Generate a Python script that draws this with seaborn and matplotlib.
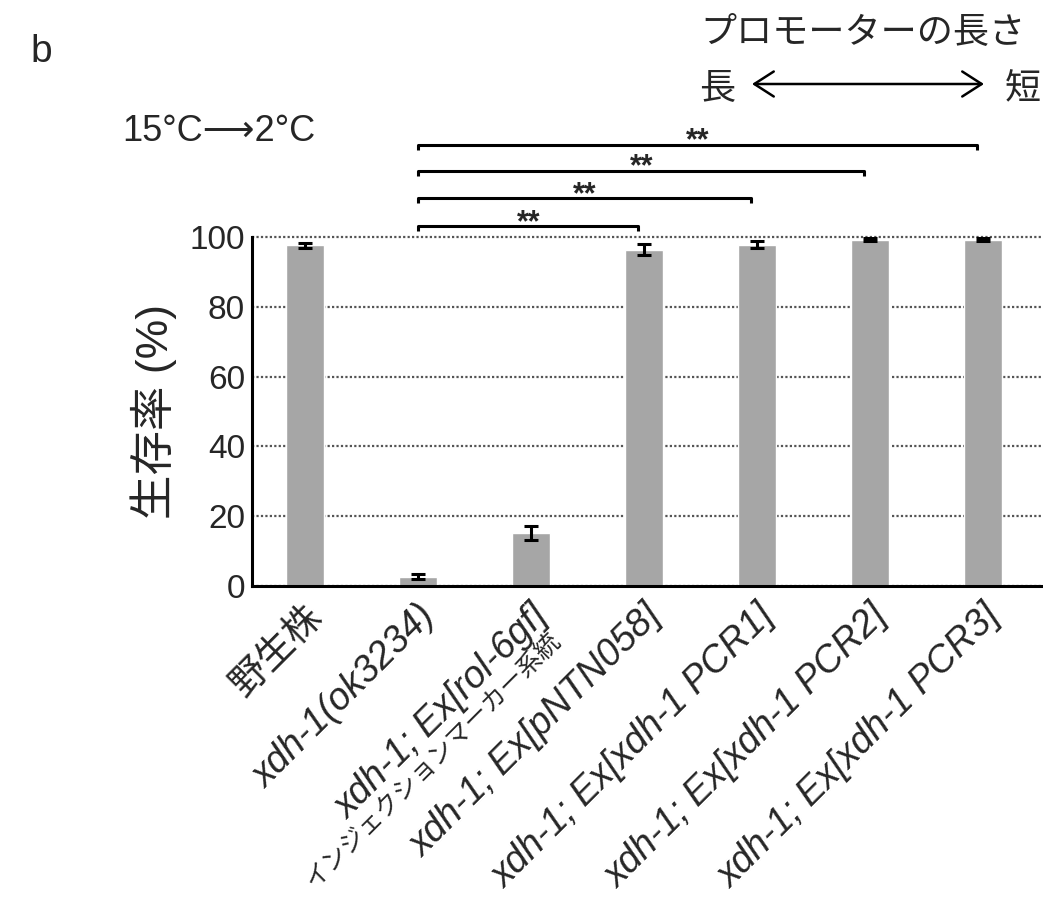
import numpy as np
import pandas as pd
import matplotlib
matplotlib.use('Agg')
import matplotlib.pyplot as plt
import matplotlib.transforms as mtransforms
import seaborn as sns

# data
strains = ['野生株', 'xdh-1(ok3234)', 'xdh-1; Ex[rol-6gf]', 'xdh-1; Ex[pNTN058]',
           'xdh-1; Ex[xdh-1 PCR1]', 'xdh-1; Ex[xdh-1 PCR2]', 'xdh-1; Ex[xdh-1 PCR3]']
survival = [97.6, 2.7, 15.1, 96.4, 97.8, 99.2, 99.2]
sem = [0.7, 0.6, 2.0, 1.6, 1.0, 0.4, 0.4]
marker_note = 'インジェクションマーカー系統'
comparisons = [(1, 3), (1, 4), (1, 5), (1, 6)]
bracket_y = [103.2, 111.2, 119.0, 126.5]
yticks = [0, 20, 40, 60, 80, 100]

df = pd.DataFrame({'strain': strains, 'survival': survival})

sns.set_style('white')
plt.rcParams['font.family'] = ['Liberation Sans', 'Noto Sans CJK JP', 'DejaVu Sans']

W, H = 1043, 897
fig = plt.figure(figsize=(W / 100, H / 100), dpi=100)
ax = fig.add_axes([252 / W, 1 - 586 / H, (W - 252) / W, (586 - 237) / H])

sns.barplot(data=df, x='strain', y='survival', color='#a6a6a6', width=0.335,
            errorbar=None, saturation=1, ax=ax, zorder=2)
ax.errorbar(np.arange(len(strains)), survival, yerr=sem, fmt='none', ecolor='black',
            elinewidth=2.2, capsize=5, capthick=2.2, zorder=3)

ax.set_xlim(-0.47, 6.53)
ax.set_ylim(0, 100)
ax.set_yticks(yticks)
ax.set_yticklabels([str(t) for t in yticks], fontsize=24)
ax.tick_params(axis='y', length=0, pad=5)
ax.tick_params(axis='x', length=0, pad=18)
ax.yaxis.grid(True, linestyle=(0, (1, 1)), color='#555555', linewidth=1.6)
for gl in ax.get_ygridlines():
    gl.set_clip_on(False)
ax.set_axisbelow(True)
for s in ['top', 'right']:
    ax.spines[s].set_visible(False)
for s in ['left', 'bottom']:
    ax.spines[s].set_linewidth(2.2)
    ax.spines[s].set_color('black')

ax.set_xlabel('')
ax.set_ylabel('生存率 (%)', fontsize=32)
ax.yaxis.set_label_coords(-0.095, 0.5)

ax.set_xticks(np.arange(len(strains)))
ax.set_xticklabels(strains, fontsize=27, rotation=45, ha='right', va='center',
                   rotation_mode='anchor')
shift = mtransforms.ScaledTranslation(12 / 100, 0, fig.dpi_scale_trans)
for i, lab in enumerate(ax.get_xticklabels()):
    lab.set_transform(lab.get_transform() + shift)
    if i > 0:
        lab.set_fontstyle('italic')

# second line of the third label
ax.annotate(marker_note, xy=(2, 0), xycoords=ax.get_xaxis_transform(),
            xytext=(26, -50), textcoords='offset pixels', fontsize=18,
            rotation=45, ha='right', va='center', rotation_mode='anchor',
            annotation_clip=False)

# significance brackets
for (a, b), yb in zip(comparisons, bracket_y):
    x1, x2 = a, b - 0.05
    ax.plot([x1, x1, x2, x2], [yb - 1.5, yb, yb, yb - 1.5], color='black',
            linewidth=2.2, clip_on=False, solid_capstyle='butt')
    ax.annotate('**', xy=((x1 + x2) / 2, yb), xytext=(0, -5), textcoords='offset pixels',
                ha='center', va='baseline', fontsize=22, fontweight='bold',
                annotation_clip=False)

# figure annotations
fig.text(30 / W, 1 - 62 / H, 'b', fontsize=28, va='baseline')
fig.text(1025 / W, 1 - 33 / H, 'プロモーターの長さ', fontsize=26, ha='right', va='center')
fig.text(717 / W, 1 - 90 / H, '長', fontsize=26, ha='center', va='center')
fig.text(1023 / W, 1 - 90 / H, '短', fontsize=26, ha='center', va='center')
fig.add_artist(matplotlib.patches.FancyArrowPatch(
    (752 / W, 1 - 84 / H), (984 / W, 1 - 84 / H), transform=fig.transFigure,
    arrowstyle='<->,head_length=14,head_width=9', linewidth=1.8, color='black',
    shrinkA=0, shrinkB=0))
fig.text(122 / W, 1 - 131 / H, '15°C⟶2°C', fontsize=26, ha='left', va='center',
         family=['Liberation Sans', 'DejaVu Sans'])

fig.savefig('out.png', dpi=100)
